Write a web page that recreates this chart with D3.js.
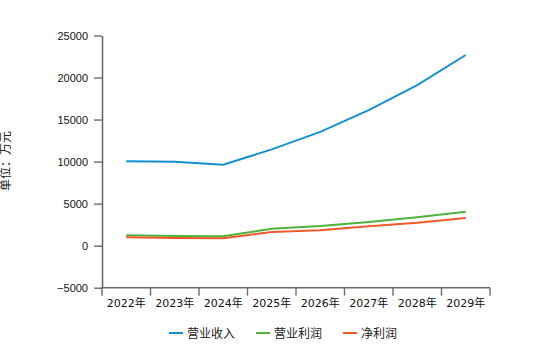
<!DOCTYPE html>
<html>
<head>
<meta charset="utf-8">
<script src="https://cdn.jsdelivr.net/npm/d3@7"></script>
<style>
  html, body { margin: 0; padding: 0; background: #fff; }
  svg { display: block; font-family: "DejaVu Sans", "Noto Sans CJK SC", sans-serif; }
</style>
</head>
<body>
<svg id="chart" width="560" height="348"></svg>
<script>
// Years on the category axis
const years = ["2022年", "2023年", "2024年", "2025年", "2026年", "2027年", "2028年", "2029年"];
// Series (单位：万元)
const revenue = [10050, 9990, 9620, 11450, 13540, 16120, 19090, 22680];       // 营业收入
const operatingProfit = [1240, 1150, 1110, 2020, 2340, 2820, 3370, 4040];   // 营业利润
const netProfit = [1000, 915, 880, 1630, 1830, 2300, 2730, 3290];           // 净利润
const seriesNames = ["营业收入", "营业利润", "净利润"];
const yTicks = [-5000, 0, 5000, 10000, 15000, 20000, 25000];

const colors = ["#1591cf", "#4fb33b", "#f0592a"];
const series = [revenue, operatingProfit, netProfit];

const svg = d3.select("#chart");
const plotLeft = 102, plotRight = 490, plotTop = 35.5, plotBottom = 287.7;

const x = d3.scaleBand().domain(years).range([plotLeft, plotRight]);
const y = d3.scaleLinear().domain([-5000, 25000]).range([plotBottom, plotTop]);

const axisColor = "#6b6b6b";

// Y axis
const yAxis = svg.append("g")
  .attr("transform", `translate(${plotLeft},0)`)
  .call(d3.axisLeft(y).tickValues(yTicks).tickSize(8).tickSizeOuter(0).tickPadding(6).tickFormat(d3.format("d")));
yAxis.select(".domain").attr("stroke", axisColor).attr("stroke-width", 1.6);
yAxis.selectAll(".tick line").attr("stroke", axisColor).attr("stroke-width", 1.4);
yAxis.selectAll(".tick text").attr("fill", "#111").attr("font-size", 11);

// X axis with band boundaries as ticks
const xAxisG = svg.append("g").attr("transform", `translate(0,${plotBottom})`);
xAxisG.append("line")
  .attr("x1", plotLeft).attr("x2", plotRight).attr("y1", 0).attr("y2", 0)
  .attr("stroke", axisColor).attr("stroke-width", 1.6);
const bounds = years.map(d => x(d)).concat([plotRight]);
xAxisG.selectAll("line.bt").data(bounds).join("line")
  .attr("class", "bt")
  .attr("x1", d => d).attr("x2", d => d).attr("y1", 0).attr("y2", 8)
  .attr("stroke", axisColor).attr("stroke-width", 1.4);
xAxisG.selectAll("text").data(years).join("text")
  .attr("x", d => x(d) + x.bandwidth() / 2)
  .attr("y", 19)
  .attr("text-anchor", "middle")
  .attr("font-size", 11)
  .attr("fill", "#111")
  .text(d => d);

// Unit label
svg.append("text")
  .attr("transform", "translate(10,161) rotate(-90)")
  .attr("text-anchor", "middle")
  .attr("font-size", 12)
  .attr("fill", "#222")
  .text("单位：万元");

// Lines
const line = d3.line()
  .x((d, i) => x(years[i]) + x.bandwidth() / 2)
  .y(d => y(d));
series.forEach((s, k) => {
  svg.append("path")
    .datum(s)
    .attr("fill", "none")
    .attr("stroke", colors[k])
    .attr("stroke-width", 2)
    .attr("d", line);
});

// Legend
const legendX = [169, 256, 343];
const legend = svg.append("g").attr("transform", "translate(0,333)");
seriesNames.forEach((name, k) => {
  legend.append("line")
    .attr("x1", legendX[k]).attr("x2", legendX[k] + 14)
    .attr("y1", 0).attr("y2", 0)
    .attr("stroke", colors[k]).attr("stroke-width", 2);
  legend.append("text")
    .attr("x", legendX[k] + 18).attr("y", 5)
    .attr("font-size", 12)
    .attr("fill", "#222")
    .text(name);
});
</script>
</body>
</html>
